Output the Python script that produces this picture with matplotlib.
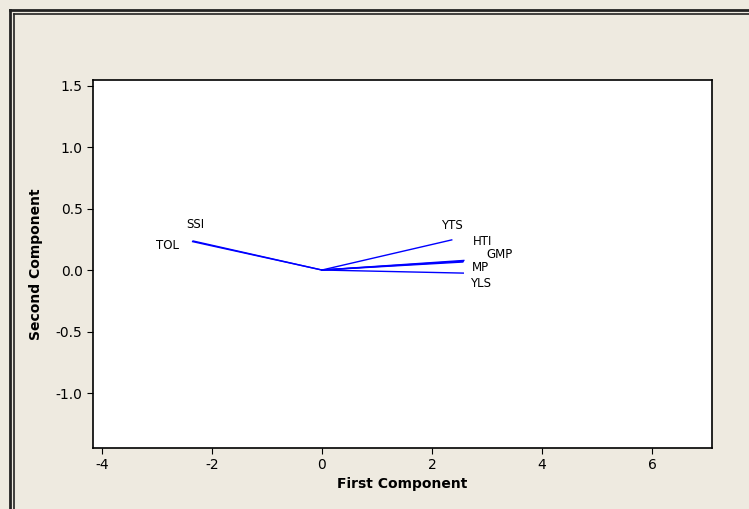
import matplotlib.pyplot as plt
from matplotlib.lines import Line2D

# ----------------------- Data ---------------------------
variables = ["SSI", "TOL", "YTS", "HTI", "GMP", "MP", "YLS"]
pc1 = [-2.34, -2.35, 2.36, 2.56, 2.58, 2.57, 2.57]
pc2 = [0.236, 0.231, 0.245, 0.065, 0.078, 0.072, -0.025]
# label anchor (x, y)
label_x = [-2.30, -2.80, 2.36, 2.92, 3.22, 2.88, 2.88]
label_y = [0.37, 0.20, 0.36, 0.23, 0.13, 0.02, -0.11]

xticks = [-4, -2, 0, 2, 4, 6]
yticks = [-1.0, -0.5, 0.0, 0.5, 1.0, 1.5]

plt.rcParams["font.family"] = ["DejaVu Sans"]

bg = "#eeeae0"
fig = plt.figure(figsize=(7.49, 5.09), dpi=100, facecolor=bg)
ax = fig.add_axes([93 / 749, 1 - 448 / 509, (712 - 93) / 749, (448 - 80) / 509])
ax.set_facecolor("white")

# ----------------------- Plotting ---------------------------
for x, y in zip(pc1, pc2):
    ax.plot([0, x], [0, y], color="#0000ff", linewidth=1.0)

for name, tx, ty in zip(variables, label_x, label_y):
    ax.text(tx, ty, name, fontsize=8.5, ha="center", va="center", color="black")

ax.set_xlim(-4.16, 7.09)
ax.set_ylim(-1.447, 1.545)
ax.set_xticks(xticks)
ax.set_yticks(yticks)
ax.set_xticklabels([str(t) for t in xticks])
ax.set_yticklabels([f"{t:.1f}" for t in yticks])
ax.tick_params(labelsize=10, length=4, width=0.8, direction="out")

ax.set_xlabel("First Component", fontsize=10, fontweight="bold", labelpad=3)
ax.set_ylabel("Second Component", fontsize=10, fontweight="bold", labelpad=9)

for s in ax.spines.values():
    s.set_linewidth(1.2)

# double frame around the figure (cropped at right and bottom)
W, H = 749, 509
for off, lw in [(10, 2.0), (14, 1.2)]:
    fig.add_artist(Line2D([off / W, off / W], [0, 1 - off / H], color="#222222", lw=lw,
                          transform=fig.transFigure))
    fig.add_artist(Line2D([off / W, 1], [1 - off / H, 1 - off / H], color="#222222", lw=lw,
                          transform=fig.transFigure))

fig.savefig("out.png", dpi=100, facecolor=bg)
